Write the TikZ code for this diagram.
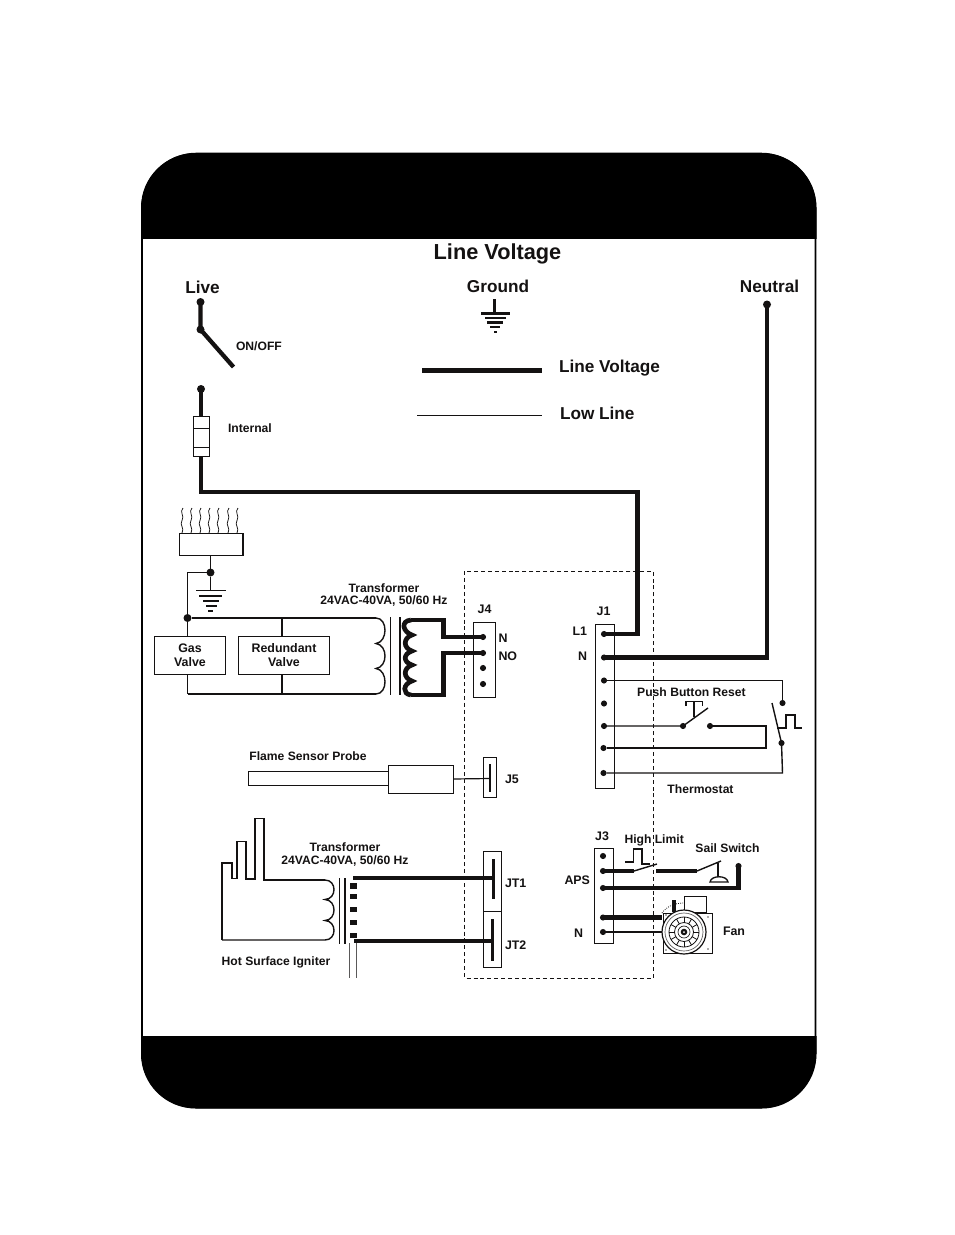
\documentclass[tikz,border=0pt]{standalone}
\usepackage{fontspec}
\setmainfont{Liberation Sans}
\definecolor{ink}{HTML}{141212}
\tikzset{
  x=0.75pt,y=-0.75pt,
  every node/.style={inner sep=0pt,outer sep=0pt,text=ink,font=\bfseries},
  thin wire/.style={draw=ink,line width=1.05pt},
  hair/.style={draw=ink,line width=0.7pt},
  heavy/.style={draw=ink,line width=3.5pt,line join=miter},
  dot/.style={circle,fill=ink,minimum size=4.6pt},
  bigdot/.style={circle,fill=ink,minimum size=6pt},
  conn/.style={draw=ink,fill=white,line width=0.75pt,rectangle,anchor=north west},
  bar/.style={draw=ink,line width=3pt},
  lblS/.style={font=\bfseries\fontsize{9.1}{10.5}\selectfont},
  lblM/.style={font=\bfseries\fontsize{12.9}{15}\selectfont},
  lblL/.style={font=\bfseries\fontsize{16.3}{19}\selectfont},
  lblJ/.style={font=\bfseries\fontsize{9.3}{11}\selectfont},
  groundbar/.style={draw=ink,line width=1.8pt},
  boxed/.style={draw=ink,line width=0.75pt,fill=white,rectangle,align=center},
}
\newcommand{\boxAt}[5]{\node[conn,minimum width=#4*0.75pt,minimum height=#5*0.75pt] (#1) at (#2,#3) {};}
\begin{document}
\begin{tikzpicture}
\useasboundingbox (0,0) rectangle (954,1235);
\fill[white] (0,0) rectangle (954,1235);
% frame
\draw[black,line width=1.2pt,rounded corners=41pt] (142,153.5) rectangle (815.5,1107.5);
\begin{scope}
\clip (141,238) -| (816.5,153) -- (141,153) -- cycle;
\fill[black,rounded corners=41pt] (141,153) rectangle (816.5,400);
\end{scope}
\begin{scope}
\clip (141,1036) rectangle (816.5,1108.5);
\fill[black,rounded corners=41pt] (141,800) rectangle (816.5,1108.5);
\end{scope}
% titles
\node[lblL] (title) at (497.5,253.5) {Line Voltage};
\node[lblM] (live) at (202.5,287.5) {Live};
\node[lblM] (ground) at (498,286.5) {Ground};
\node[lblM] (neutral) at (769.5,286.5) {Neutral};
\node[lblM,anchor=west] (lv) at (559,368.5) {Line Voltage};
\node[lblM,anchor=west] (ll) at (560,413.5) {Low Line};
\node[lblS,anchor=west] (onoff) at (236,346) {ON/OFF};
\node[lblS,anchor=west] (internal) at (228,428.5) {Internal};
% legend
\coordinate (la) at (422,370.5); \coordinate (lb) at (542,370.5);
\coordinate (lc) at (417,415.5); \coordinate (ld) at (542,415.5);
\draw[heavy] (la) -- (lb);
\draw[ink,line width=1.4pt] (lc) -- (ld);
% ground symbol
\coordinate (g0) at (494.5,299); \coordinate (g1) at (494.5,313);
\draw[ink,line width=1.8pt] (g0) -- (g1);
\draw[groundbar] (481,313.3) -- (510,313.3) (485,318) -- (506,318) (487,322.5) -- (503,322.5) (490,327) -- (500,327) (494,332) -- (497,332);
% switch + fuse
\node[bigdot] (s1) at (200.5,302) {};
\node[bigdot] (s2) at (200.5,329.5) {};
\coordinate (s3) at (233.5,367);
\node[bigdot] (s4) at (201,389) {};
\node[boxed,minimum width=11.6pt,minimum height=29.3pt] (fuse) at (201.5,436.5) {};
\coordinate (c1) at (201,492);
\coordinate (c2) at (637.5,492);
\draw[heavy,line width=3.2pt] (s1.center) -- (s2.center) -- (s3);
\draw[heavy,line width=3.2pt] (s4.center) -- (fuse.north -| s4);
\draw[hair] (193.5,428.5) -- (209.5,428.5) (193.5,447.5) -- (209.5,447.5);
% dashed
\draw[ink,line width=0.6pt,dash pattern=on 3pt off 2.2pt] (464.5,571) rectangle (653.5,978);
% connectors J4 J1
\boxAt{J4}{473}{622}{22.5}{75}
\boxAt{J1}{595}{624.5}{19.5}{163.5}
\boxAt{J5}{483}{757.5}{13.5}{39.5}
\boxAt{JT1}{483.5}{851.5}{18}{60}
\boxAt{JT2}{483.5}{911.5}{18}{56}
\boxAt{J3}{594.5}{848.5}{18.5}{94.5}
% labels
\node[lblJ] (lJ4) at (484.5,609.5) {J4};
\node[lblJ,anchor=west] (lN4) at (498.5,638.5) {N};
\node[lblJ,anchor=west] (lNO) at (498.5,656) {NO};
\node[lblJ] (lJ1) at (603.5,611.5) {J1};
\node[lblJ,anchor=east] (lL1) at (587,631.5) {L1};
\node[lblJ,anchor=east] (lN1) at (587,656) {N};
\node[lblJ,anchor=west] (lJ5) at (505,779) {J5};
\node[lblJ,anchor=west] (lJT1) at (505,883.5) {JT1};
\node[lblJ,anchor=west] (lJT2) at (505,945.5) {JT2};
\node[lblJ] (lJ3) at (602,836.5) {J3};
\node[lblJ,anchor=east] (lAPS) at (590,880) {APS};
\node[lblJ,anchor=east] (lN3) at (583,933.5) {N};
% J1 dots
\node[dot] (a1) at (604,634) {};
\node[dot] (a2) at (604,657.5) {};
\node[dot] (a3) at (604,680.5) {};
\node[dot] (a4) at (604,703.5) {};
\node[dot] (a5) at (604,726) {};
\node[dot] (a6) at (603.5,748) {};
\node[dot] (a7) at (603.5,773) {};
% mains
\node[bigdot] (neu) at (767,304.5) {};
\draw[heavy] (fuse.south -| s4) |- (c2) -- (c2 |- a1) -- (a1.center);
\draw[heavy] (neu.center) |- (a2.center);
% thermostat
\node[dot] (t1) at (782.5,703) {};
\node[dot] (t2) at (781.5,743) {};
\coordinate (t3) at (772,703);
\coordinate (t4) at (782.5,773);
\draw[thin wire] (a3) -| (t1);
\draw[thin wire] (t3) -- (t2.center) -- (t4) -- (a7);
\node[dot] (p1) at (683,726) {};
\node[dot] (p2) at (710,726) {};
\coordinate (p3) at (708,708);
\coordinate (p4) at (766,726);
\coordinate (p5) at (766,748);
\draw[thin wire] (a5) -- (p1.center) -- (p3);
\draw[thin wire] (p2) -- (p4) -- (p5) -- (a6);
\draw[draw=ink,line width=1pt] (694,717) -- (694,701.5) (686,706) -- (686,701.5) -- (702.5,701.5) -- (702.5,706);
\draw[thin wire] (777,728) -- (786,728) -- (786,715) -- (795,715) -- (795,728) -- (802,728);
\node[lblS] (lPB) at (691.5,692.5) {Push Button Reset};
\node[lblS] (lTh) at (700.5,789.5) {Thermostat};
% J4 dots
\node[dot] (b1) at (483,637) {};
\node[dot] (b2) at (483,653) {};
\node[dot] (b3) at (483,668) {};
\node[dot] (b4) at (483,684) {};
% heater
\node[boxed,minimum width=48pt,minimum height=16.2pt] (heater) at (211,544.3) {};
\draw[ink,line width=1.3pt] (179,533.5) -- (243,533.5) -- (243,555);
\foreach \q in {182,191,200,209,218,228,237}
  \draw[ink,line width=0.55pt] (\q,533) .. controls (\q+3,528) and (\q-3,525) .. (\q,520.5) .. controls (\q+3,516) and (\q-3,512) .. (\q+1,508);
\node[bigdot] (h1) at (210.5,572.5) {};
\coordinate (h2) at (210.5,590.5);
\node[bigdot] (h3) at (187.5,618) {};
\draw[thin wire] (heater.south -| h1) -- (h1) -- (h2);
\draw[thin wire] (h1) -| (h3);
\draw[groundbar,line width=1pt] (196,590.7) -- (226,590.7);
\draw[groundbar,line width=1.3pt] (199,596) -- (222,596) (203,601) -- (219,601) (206,606) -- (217,606);
\draw[groundbar,line width=1pt] (208,611) -- (213,611);
% valves
\node[boxed,minimum width=53.3pt,minimum height=28.5pt,font=\bfseries\fontsize{9.3}{10.6}\selectfont] (gas) at (190,655) {Gas\\Valve};
\node[boxed,minimum width=68.2pt,minimum height=28.5pt,font=\bfseries\fontsize{9.3}{10.6}\selectfont] (red) at (284,655) {Redundant\\Valve};
\coordinate (v1) at (376,618);
\coordinate (v2) at (376,694);
\coordinate (v3) at (187.5,694);
\coordinate (v4) at (282,618);
\coordinate (v5) at (282,694);
\draw[thin wire] (h3) -- (v1);
\draw[thin wire] (v1) .. controls (388,618) and (388,642) .. (376,643.5) .. controls (388,645) and (388,667) .. (376,668.5) .. controls (388,670) and (388,694) .. (376,694);
\draw[thin wire] (v2) -- (v3);
\draw[thin wire] (h3) -- (h3 |- gas.north) (gas.south -| h3) -- (v3);
\draw[thin wire] (v4) -- (red.north -| v4) (red.south -| v5) -- (v5);
\draw[ink,line width=1pt] (390.7,617) -- (390.7,695) (400,617) -- (400,695);
% secondary
\coordinate (w1) at (411,620);
\coordinate (w2) at (411,695);
\coordinate (w3) at (443.5,637);
\coordinate (w4) at (443.5,653);
\draw[heavy,line join=miter] (w1) .. controls (400,621) and (403,632) .. (412,635) .. controls (403,638) and (403,648) .. (412,651) .. controls (403,654) and (403,662) .. (412,665) .. controls (403,668) and (403,678) .. (412,681) .. controls (403,684) and (402,694) .. (w2);
\draw[heavy] (w1) -- (w1 -| w3) -- (w3) -- (b1.center);
\draw[heavy] (b2.center) -- (w4) -- (w4 |- w2) -- (w2);
% flame probe
\node[boxed,minimum width=105pt,minimum height=10.5pt,anchor=north west] (probe) at (248,771) {};
\node[boxed,minimum width=48.8pt,minimum height=21pt,anchor=north west] (sensor) at (388,765) {};
\coordinate (jb5) at (490,778.5);
\draw[thin wire,line width=0.9pt] (sensor.east) -- (jb5);
\draw[bar,line width=2pt] (490,764) -- (490,792);
\node[lblS] (lFS) at (308,756) {Flame Sensor Probe};
% igniter
\coordinate (i0) at (222,940);
\coordinate (i1) at (325,880);
\coordinate (i2) at (325,940);
\draw[thin wire] (i0) -- (222,863) -- (232,863) -- (232,878.5) -- (237,878.5) -- (237,841.5) -- (246,841.5) -- (246,879) -- (255,879) -- (255,818.5) -- (264,818.5) -- (264,880) -- (i1);
\draw[thin wire] (i1) .. controls (337,880) and (337,899) .. (325,899.5) .. controls (337,900) and (337,920) .. (325,920.5) .. controls (337,921) and (337,940) .. (i2) -- (i0);
\draw[ink,line width=1pt] (339.3,878) -- (339.3,943.5) (345,878) -- (345,943.5);
\foreach \q/\r in {883/888.5,894/898.5,907/912,920/924.5,933/938}
  \fill[ink] (350,\q) rectangle (356.5,\r);
\draw[draw=ink!70,line width=0.6pt] (349.3,943) -- (349.3,978) (356.3,943) -- (356.3,978);
\coordinate (k1) at (353,878);
\coordinate (k2) at (354,941);
\draw[heavy,line width=3.2pt] (k1) -- (k1 -| JT1.center);
\draw[heavy,line width=3.2pt] (k2) -- (k2 -| JT2.center);
\draw[bar,line width=2.4pt] (493.3,859) -- (493.3,899);
\draw[bar,line width=2.4pt] (492.7,919) -- (492.7,961);
\node[lblS] (lT1) at (345,847.5) {Transformer};
\node[lblS] (lT2) at (345,861.5) {24VAC-40VA, 50/60 Hz};
\node[lblS] (lT3) at (384,588) {Transformer};
\node[lblS] (lT4) at (384,601.5) {24VAC-40VA, 50/60 Hz};
\node[lblS] (lHS) at (276,962) {Hot Surface Igniter};
% J3
\node[dot] (d1) at (603,856) {};
\node[dot] (d2) at (603,871) {};
\node[dot] (d3) at (603,888) {};
\node[dot] (d4) at (603,917.5) {};
\node[dot] (d5) at (603,932) {};
\coordinate (e1) at (634,871);
\coordinate (e2) at (657,864);
\coordinate (e3) at (656,871);
\coordinate (e4) at (697,871);
\coordinate (e5) at (721,861);
\node[dot] (e6) at (738.5,866) {};
\coordinate (e7) at (738.5,888);
\draw[heavy,line width=3.2pt] (d2.center) -- (e1);
\draw[heavy,line width=3.2pt] (e3) -- (e4);
\draw[thin wire] (e1) -- (e2);
\draw[thin wire] (e4) -- (e5);
\draw[heavy,line width=3.2pt] (d3.center) -- (e7) -- (e6.center);
\draw[draw=ink,line width=1pt] (718,863) -- (718,877);
\draw[ink,line width=1pt,fill=white] (710,882) .. controls (711,875) and (727,875) .. (728,882) -- cycle;
\draw[thin wire] (625,862) -- (633.5,862) -- (633.5,849) -- (642,849) -- (642,864) -- (650,864);
\node[lblS,anchor=west] (lHL) at (624.5,840) {High Limit};
\node[lblS] (lSS) at (727.5,848.5) {Sail Switch};
% fan
\coordinate (fc) at (684,932);
\node[boxed,minimum width=16.5pt,minimum height=12pt,anchor=north west] (fanout) at (684,896.5) {};
\draw[ink,line width=0.6pt,fill=white] (663,913) -- (712,913) -- (712,953) -- (663,953) -- cycle;
\draw[ink,line width=0.6pt,densely dotted] (662,913) .. controls (667,906) and (675,903) .. (684,903);
\draw[ink,line width=0.8pt] (673,900) -- (673,912) (675,900) -- (675,912);
\draw[heavy,line width=3.2pt] (d4.center) -- (662,917.5);
\node[circle,draw=ink,fill=white,line width=0.9pt,minimum size=33pt] (fan) at (fc) {};
\draw[thin wire,line width=0.9pt] (d5) -- (fan.west);
\draw[ink!70,line width=0.5pt] (fc) circle (19);
\draw[ink,line width=0.6pt] (fc) circle (15) (fc) circle (9.5);
\foreach \a in {0,30,...,330} \draw[ink,line width=0.6pt] (fc) ++(\a:9.5) -- ++(\a:5.5);
\fill[ink] (fc) circle (3.3);
\fill[white] (fc) circle (1);
\draw[ink,line width=0.5pt] (fc) circle (6);
\foreach \p/\r in {708/917,666/915,666/950,708/949} \fill[ink!70] (\p,\r) circle (0.9);
\node[font=\bfseries\fontsize{9.3}{11}\selectfont,anchor=west] (lFan) at (723,931.5) {Fan};
\end{tikzpicture}
\end{document}
